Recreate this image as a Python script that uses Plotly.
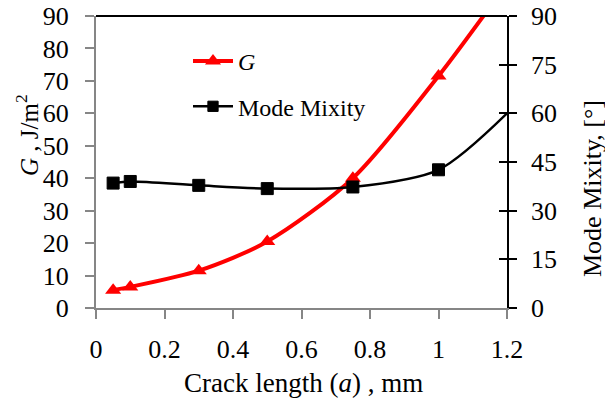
import plotly.graph_objects as go

# Data
crack_length = [0.05, 0.1, 0.3, 0.5, 0.75, 1.0, 1.2]
g_values = [5.5, 6.5, 11.5, 20.5, 40.0, 71.5, 100.0]
mode_mixity = [38.5, 39.0, 37.8, 36.8, 37.3, 42.6, 60.0]

x_ticks = [0, 0.2, 0.4, 0.6, 0.8, 1, 1.2]
x_tick_labels = ["0", "0.2", "0.4", "0.6", "0.8", "1", "1.2"]
g_ticks = list(range(0, 91, 10))
mm_ticks = list(range(0, 91, 15))

FONT = "Liberation Serif"

# styles
mm_marker_sizes = [12, 12, 12, 12, 12, 12, 0]

# page body has an 8px default margin: size the figure so it fits the window
W, H = 605, 392
OFF = 8
PL, PR, PT, PB = 96, 507, 16, 308   # plot area in window pixels
PW, PHT = PR - PL, PB - PT

def px(xw):
    return (xw - PL) / PW

def py(yw):
    return (PB - yw) / PHT

fig = go.Figure()

fig.add_trace(go.Scatter(
    x=crack_length, y=g_values, name="<i>G</i>", legendgroup="g",
    mode="lines+markers",
    line=dict(color="#ff0000", width=4, shape="spline", smoothing=0.8),
    marker=dict(symbol="triangle-up", size=14, color="#ff0000", opacity=1,
                line=dict(width=0)),
    yaxis="y", cliponaxis=True,
))

fig.add_trace(go.Scatter(
    x=crack_length, y=mode_mixity, name="Mode Mixity", legendgroup="mm",
    mode="lines+markers",
    line=dict(color="#000000", width=2.5, shape="spline", smoothing=0.8),
    marker=dict(symbol="square", size=mm_marker_sizes, color="#000000", opacity=1,
                line=dict(width=1, color="#000000")),
    yaxis="y2", cliponaxis=True,
))

fig.add_trace(go.Scatter(x=[None], y=[None], yaxis="y3", showlegend=False, hoverinfo="skip"))

tickfont = dict(size=26, family=FONT, color="black")

fig.update_layout(
    width=W, height=H,
    margin=dict(l=PL - OFF, r=W - (PR - OFF), t=PT - OFF, b=H - (PB - OFF), autoexpand=False),
    paper_bgcolor="white", plot_bgcolor="white",
    font=dict(family=FONT, size=24, color="black"),
    showlegend=True,
    legend=dict(
        x=px(188), y=py(39), xanchor="left", yanchor="top",
        bgcolor="rgba(0,0,0,0)", font=dict(size=24, family=FONT),
        tracegroupgap=11, itemwidth=40,
    ),
    xaxis=dict(
        range=[0, 1.2], tickvals=x_ticks, ticktext=x_tick_labels,
        showline=True, linecolor="#868686", linewidth=2,
        ticks="outside", ticklen=9, tickwidth=2, tickcolor="#868686",
        showgrid=False, zeroline=False, ticklabelstandoff=8, automargin=False,
        ticklabeloverflow="allow", tickfont=tickfont,
    ),
    yaxis=dict(
        range=[0, 90], tickvals=g_ticks,
        showline=True, linecolor="#868686", linewidth=2,
        ticks="outside", ticklen=9, tickwidth=2, tickcolor="#868686",
        showgrid=False, zeroline=False, ticklabelstandoff=11, automargin=False,
        ticklabeloverflow="allow", tickfont=tickfont,
    ),
    yaxis2=dict(
        range=[0, 90], tickvals=mm_ticks, overlaying="y", side="right",
        showline=True, linecolor="black", linewidth=1.5,
        ticks="outside", ticklen=8, tickwidth=1.5, tickcolor="black",
        showgrid=False, zeroline=False, ticklabelstandoff=9, automargin=False,
        ticklabeloverflow="allow", tickfont=tickfont,
    ),
    yaxis3=dict(
        range=[0, 90], tickvals=mm_ticks, overlaying="y", side="right",
        showline=False, ticks="inside", ticklen=8, tickwidth=1.5, automargin=False,
        tickcolor="black", showticklabels=False, showgrid=False, zeroline=False,
    ),
    shapes=[dict(type="line", xref="paper", yref="paper", x0=0, x1=1, y0=1, y1=1,
                 line=dict(color="black", width=2))],
    annotations=[
        dict(text="Crack length (<i>a</i>) , mm", xref="paper", yref="paper",
             x=px(303), y=py(383), xanchor="center", yanchor="middle",
             showarrow=False, font=dict(size=27, family=FONT)),
        dict(text="<i>G</i> , J/m<sup>2</sup>", xref="paper", yref="paper",
             x=px(27), y=py(135), xanchor="center", yanchor="middle",
             textangle=-90, showarrow=False, font=dict(size=25, family=FONT)),
        dict(text="Mode Mixity, [°]", xref="paper", yref="paper",
             x=px(592), y=py(189), xanchor="center", yanchor="middle",
             textangle=-90, showarrow=False, font=dict(size=26, family=FONT)),
    ],
)

fig.write_html("out.html")
